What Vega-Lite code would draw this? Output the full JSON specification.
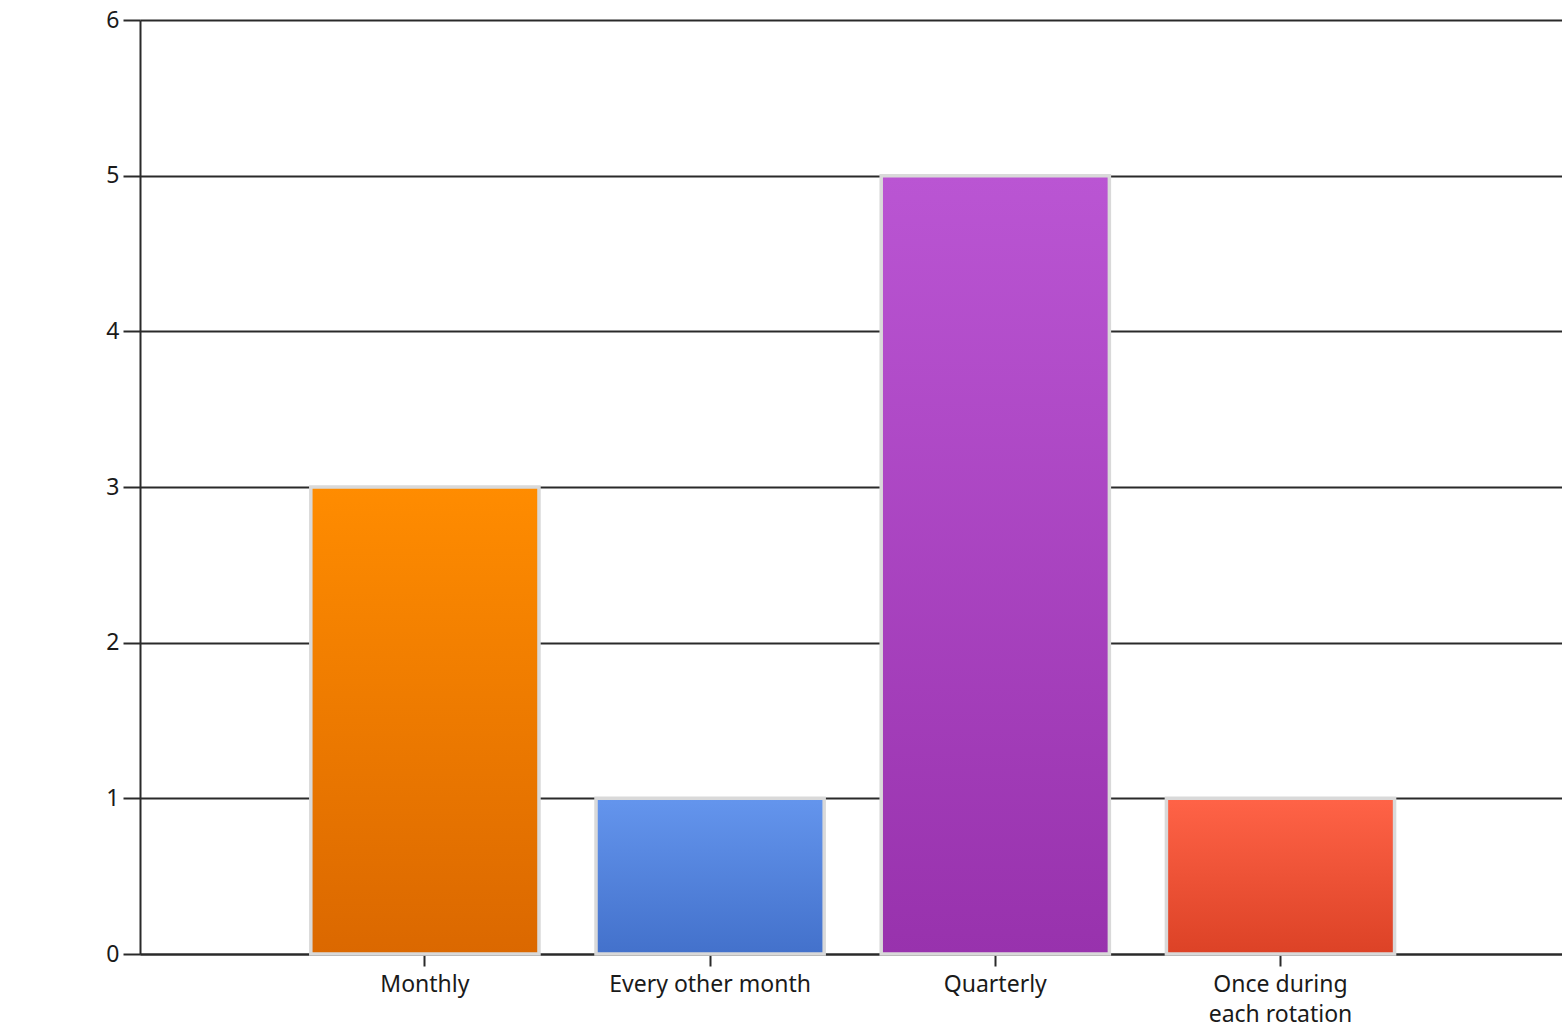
{
  "$schema": "https://vega.github.io/schema/vega-lite/v6.json",
  "width": 1422,
  "height": 934,
  "autosize": "none",
  "padding": {"left": 140, "top": 20, "right": 0, "bottom": 74},
  "background": "white",
  "config": {
    "view": {"stroke": null},
    "font": "Noto Sans"
  },
  "data": {
    "values": [
      {"frequency": "Monthly", "count": 3},
      {"frequency": "Every other month", "count": 1},
      {"frequency": "Quarterly", "count": 5},
      {"frequency": "Once during each rotation", "count": 1}
    ]
  },
  "mark": {"type": "bar", "stroke": "#d9d9d9", "strokeWidth": 3.5},
  "encoding": {
    "x": {
      "field": "frequency",
      "type": "nominal",
      "sort": null,
      "scale": {"paddingInner": 0.2, "paddingOuter": 0.593, "align": 0.505},
      "axis": {
        "title": null,
        "labelAngle": 0,
        "labelFontSize": 23,
        "labelColor": "#1a1a1a",
        "labelLineHeight": 30,
        "labelPadding": 7,
        "labelLimit": 0,
        "labelOverlap": false,
        "labelExpr": "datum.value == 'Once during each rotation' ? ['Once during', 'each rotation'] : datum.value",
        "tickSize": 12,
        "tickColor": "#2a2a2a",
        "tickWidth": 2,
        "domainColor": "#2a2a2a",
        "domainWidth": 2,
        "grid": false
      }
    },
    "y": {
      "field": "count",
      "type": "quantitative",
      "scale": {"domain": [0, 6], "nice": false},
      "axis": {
        "title": null,
        "values": [0, 1, 2, 3, 4, 5, 6],
        "labelOverlap": false,
        "labelFlush": false,
        "labelFontSize": 23,
        "labelColor": "#1a1a1a",
        "labelPadding": 4,
        "tickSize": 17,
        "tickColor": "#2a2a2a",
        "tickWidth": 2,
        "domainColor": "#2a2a2a",
        "domainWidth": 2,
        "grid": true,
        "gridColor": "#2a2a2a",
        "gridWidth": 2
      }
    },
    "color": {
      "condition": [
        {
          "test": "datum.frequency === 'Monthly'",
          "value": {"gradient": "linear", "x1": 0, "y1": 0, "x2": 0, "y2": 1,
            "stops": [{"offset": 0, "color": "#ff8c00"}, {"offset": 1, "color": "#db6800"}]}
        },
        {
          "test": "datum.frequency === 'Every other month'",
          "value": {"gradient": "linear", "x1": 0, "y1": 0, "x2": 0, "y2": 1,
            "stops": [{"offset": 0, "color": "#6495ed"}, {"offset": 1, "color": "#4371cb"}]}
        },
        {
          "test": "datum.frequency === 'Quarterly'",
          "value": {"gradient": "linear", "x1": 0, "y1": 0, "x2": 0, "y2": 1,
            "stops": [{"offset": 0, "color": "#ba55d3"}, {"offset": 1, "color": "#9832ad"}]}
        }
      ],
      "value": {"gradient": "linear", "x1": 0, "y1": 0, "x2": 0, "y2": 1,
        "stops": [{"offset": 0, "color": "#ff6347"}, {"offset": 1, "color": "#dc4226"}]}
    }
  }
}
